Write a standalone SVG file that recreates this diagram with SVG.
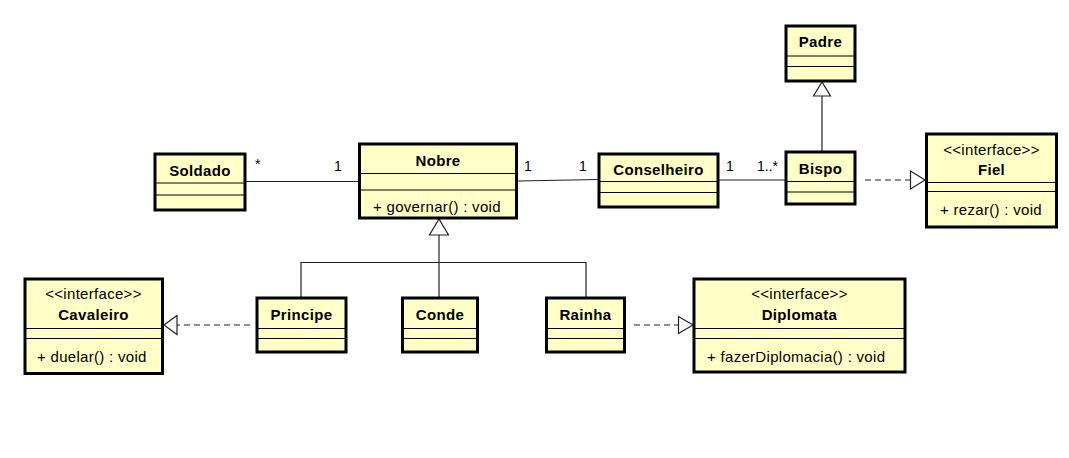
<svg xmlns="http://www.w3.org/2000/svg" width="1069" height="458" viewBox="0 0 1069 458">
<defs>
<style>
.box{fill:#FFFFC8;stroke:#000;stroke-width:3}
.sep{stroke:#000;stroke-width:1}
.name{font-family:"Liberation Sans",Arial,sans-serif;font-weight:bold;font-size:15px;letter-spacing:0.35px;text-anchor:middle;fill:#000}
.st{font-family:"Liberation Sans",Arial,sans-serif;font-size:15px;letter-spacing:0.3px;text-anchor:middle;fill:#000}
.op{font-family:"Liberation Sans",Arial,sans-serif;font-size:15px;letter-spacing:0.3px;fill:#000}
.mul{font-family:"Liberation Sans",Arial,sans-serif;font-size:14px;fill:#000}
.ln{fill:none;stroke:#222;stroke-width:1.2}
.dash{fill:none;stroke:#222;stroke-width:1.2;stroke-dasharray:6,4}
.tri{fill:#fff;stroke:#222;stroke-width:1.2}
</style>
</defs>
<rect width="1069" height="458" fill="#fff"/>
<g id="connectors">
<line class="ln" x1="246" y1="181.5" x2="358" y2="181.5"/>
<line class="ln" x1="518" y1="181" x2="598" y2="179.5"/>
<line class="ln" x1="719" y1="180" x2="785" y2="180"/>
<line class="ln" x1="822" y1="96" x2="822" y2="151"/>
<polygon class="tri" points="822,82 813.5,96 830.5,96"/>
<line class="dash" x1="865" y1="180" x2="910" y2="180"/>
<polygon class="tri" points="925,180 910.5,171 910.5,189"/>
<line class="ln" x1="439" y1="235" x2="439" y2="297"/>
<polyline class="ln" points="301,297 301,262.5 586,262.5 586,297"/>
<polygon class="tri" points="439,219 429.5,235 448.5,235"/>
<line class="dash" x1="250" y1="325" x2="177" y2="325"/>
<polygon class="tri" points="164,325 177,315.5 177,334.5"/>
<line class="dash" x1="634" y1="325" x2="678" y2="325"/>
<polygon class="tri" points="693,325 678.5,316.5 678.5,333.5"/>
<text class="mul" x="255" y="169">*</text>
<text class="mul" x="334" y="171">1</text>
<text class="mul" x="524" y="171">1</text>
<text class="mul" x="579" y="171">1</text>
<text class="mul" x="726" y="171">1</text>
<text class="mul" x="757" y="171">1..*</text>
</g>
<g id="Soldado">
<rect class="box" x="155" y="154" width="90" height="56"/>
<line class="sep" x1="155" y1="183" x2="245" y2="183"/>
<line class="sep" x1="155" y1="195" x2="245" y2="195"/>
<text class="name" x="200" y="176">Soldado</text>
</g>
<g id="Nobre">
<rect class="box" x="359.5" y="144" width="157" height="74"/>
<line class="sep" x1="359.5" y1="173.5" x2="516.5" y2="173.5"/>
<line class="sep" x1="359.5" y1="190" x2="516.5" y2="190"/>
<text class="name" x="438" y="166">Nobre</text>
<text class="op" x="373" y="212">+ governar() : void</text>
</g>
<g id="Conselheiro">
<rect class="box" x="599" y="154" width="119" height="53"/>
<line class="sep" x1="599" y1="181.5" x2="718" y2="181.5"/>
<line class="sep" x1="599" y1="192.5" x2="718" y2="192.5"/>
<text class="name" x="658.5" y="174.5">Conselheiro</text>
</g>
<g id="Padre">
<rect class="box" x="786" y="26" width="69" height="55"/>
<line class="sep" x1="786" y1="56" x2="855" y2="56"/>
<line class="sep" x1="786" y1="66.5" x2="855" y2="66.5"/>
<text class="name" x="820.5" y="47">Padre</text>
</g>
<g id="Bispo">
<rect class="box" x="786" y="152" width="69" height="52"/>
<line class="sep" x1="786" y1="181.5" x2="855" y2="181.5"/>
<line class="sep" x1="786" y1="192" x2="855" y2="192"/>
<text class="name" x="820.5" y="173.5">Bispo</text>
</g>
<g id="Fiel">
<rect class="box" x="926.5" y="134" width="130" height="93"/>
<line class="sep" x1="926.5" y1="182.5" x2="1056.5" y2="182.5"/>
<line class="sep" x1="926.5" y1="191.5" x2="1056.5" y2="191.5"/>
<text class="st" x="991.5" y="155">&lt;&lt;interface&gt;&gt;</text>
<text class="name" x="991.5" y="175">Fiel</text>
<text class="op" x="940" y="214.5">+ rezar() : void</text>
</g>
<g id="Cavaleiro">
<rect class="box" x="25" y="279" width="137.5" height="94.5"/>
<line class="sep" x1="25" y1="328.5" x2="162.5" y2="328.5"/>
<line class="sep" x1="25" y1="338.5" x2="162.5" y2="338.5"/>
<text class="st" x="93.5" y="298.5">&lt;&lt;interface&gt;&gt;</text>
<text class="name" x="93.5" y="320">Cavaleiro</text>
<text class="op" x="37" y="361.5">+ duelar() : void</text>
</g>
<g id="Principe">
<rect class="box" x="257" y="298" width="89" height="54"/>
<line class="sep" x1="257" y1="328.5" x2="346" y2="328.5"/>
<line class="sep" x1="257" y1="338.5" x2="346" y2="338.5"/>
<text class="name" x="301.5" y="320">Principe</text>
</g>
<g id="Conde">
<rect class="box" x="402.5" y="298" width="75" height="54"/>
<line class="sep" x1="402.5" y1="328.5" x2="477.5" y2="328.5"/>
<line class="sep" x1="402.5" y1="338.5" x2="477.5" y2="338.5"/>
<text class="name" x="440" y="320">Conde</text>
</g>
<g id="Rainha">
<rect class="box" x="546.5" y="298" width="78" height="54"/>
<line class="sep" x1="546.5" y1="328.5" x2="624.5" y2="328.5"/>
<line class="sep" x1="546.5" y1="338.5" x2="624.5" y2="338.5"/>
<text class="name" x="585.5" y="320">Rainha</text>
</g>
<g id="Diplomata">
<rect class="box" x="694" y="279" width="211" height="93"/>
<line class="sep" x1="694" y1="328.5" x2="905" y2="328.5"/>
<line class="sep" x1="694" y1="338.5" x2="905" y2="338.5"/>
<text class="st" x="799.5" y="298.5">&lt;&lt;interface&gt;&gt;</text>
<text class="name" x="799.5" y="320">Diplomata</text>
<text class="op" x="707" y="361.5">+ fazerDiplomacia() : void</text>
</g>
</svg>
